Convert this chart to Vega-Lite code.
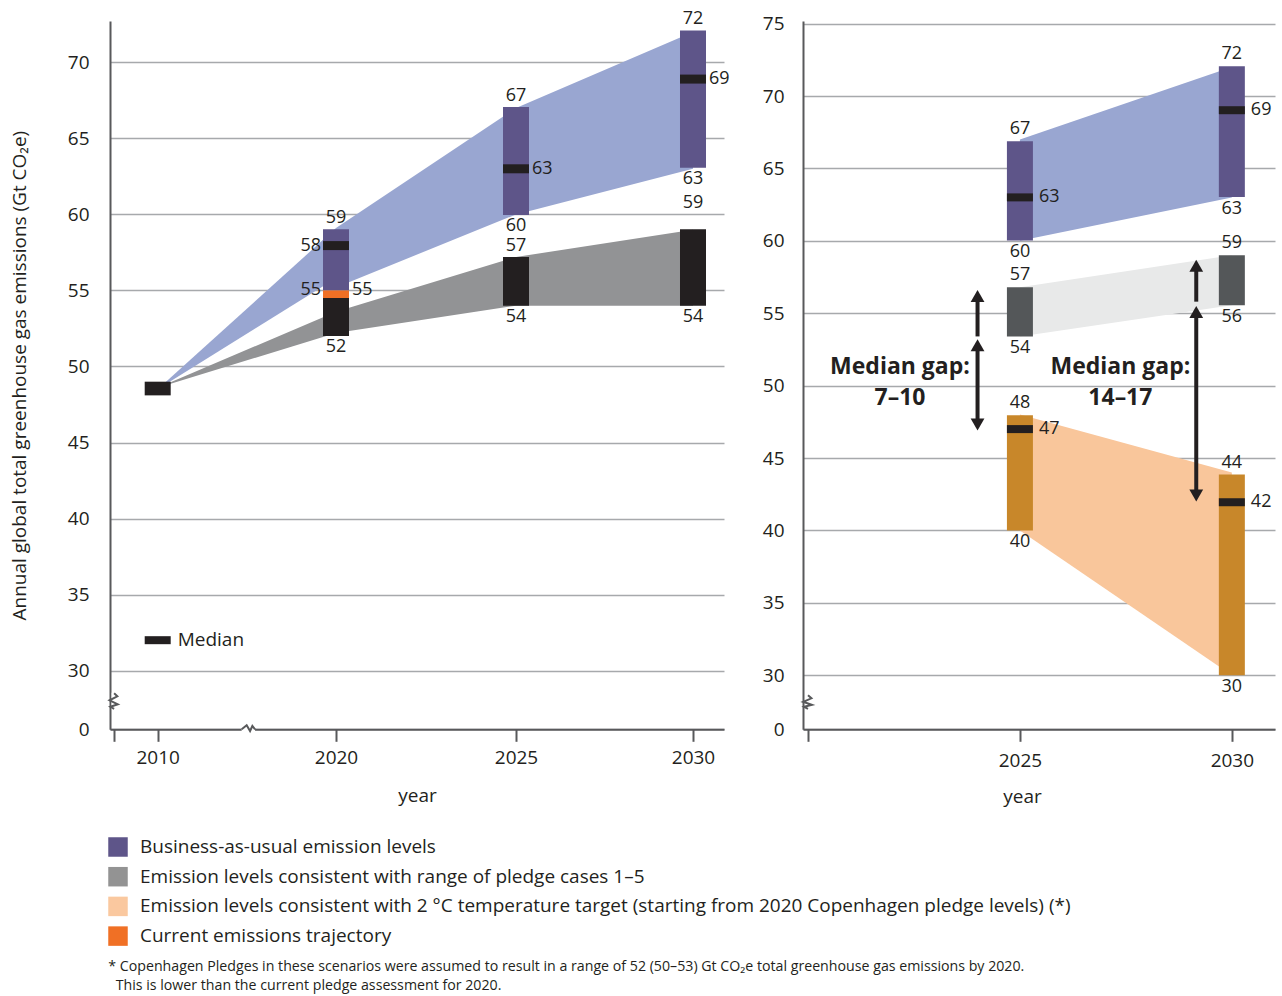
{
  "$schema": "https://vega.github.io/schema/vega-lite/v6.json",
  "padding": {"left": 10, "top": 10, "right": 5, "bottom": 5},
  "background": "white",
  "config": {
    "view": {"stroke": null},
    "font": "Open Sans",
    "axis": {"labelColor": "#231f20", "titleColor": "#231f20", "labelFontSize": 19, "titleFontSize": 19, "titleFontWeight": "normal", "domainColor": "#58595b", "domainWidth": 2, "tickColor": "#58595b", "tickWidth": 2, "gridColor": "#a7a9ac", "gridWidth": 1.5, "labelFont": "Open Sans", "titleFont": "Open Sans", "zindex": 0},
    "text": {"font": "Open Sans", "fontSize": 18, "color": "#231f20"},
    "legend": {"labelFont": "Open Sans"}
  },
  "title": {
    "text": ["* Copenhagen Pledges in these scenarios were assumed to result in a range of 52 (50–53) Gt CO₂e total greenhouse gas emissions by 2020.", "\u200b\u00a0\u00a0This is lower than the current pledge assessment for 2020."],
    "orient": "bottom", "anchor": "start", "frame": "bounds", "fontSize": 14.2, "fontWeight": "normal", "color": "#231f20", "lineHeight": 19, "offset": 13, "dx": 98, "font": "Open Sans"
  },
  "datasets": {
    "leftAreas": [
      {"series": "bau", "seg": "a", "year": 2010, "lo": 48.5, "hi": 48.5},
      {"series": "bau", "seg": "a", "year": 2020, "lo": 55.8, "hi": 59.1},
      {"series": "bau", "seg": "b", "year": 2020, "lo": 55.2, "hi": 59.1},
      {"series": "bau", "seg": "b", "year": 2025, "lo": 60, "hi": 67},
      {"series": "bau", "seg": "b", "year": 2030, "lo": 63, "hi": 72},
      {"series": "pledge", "seg": "a", "year": 2010, "lo": 48.6, "hi": 48.6},
      {"series": "pledge", "seg": "a", "year": 2020, "lo": 52.2, "hi": 53.6},
      {"series": "pledge", "seg": "a", "year": 2025, "lo": 54, "hi": 57.2},
      {"series": "pledge", "seg": "a", "year": 2030, "lo": 54, "hi": 59}
    ],
    "leftBars": [
      {"series": "2010 emissions", "year": 2010, "lo": 48.1, "hi": 49.0},
      {"series": "Business-as-usual emission levels", "year": 2020, "lo": 55, "hi": 59.03},
      {"series": "Current emissions trajectory", "year": 2020, "lo": 54.5, "hi": 55},
      {"series": "pledge", "year": 2020, "lo": 52, "hi": 54.5},
      {"series": "Business-as-usual emission levels", "year": 2025, "lo": 59.97, "hi": 67.06},
      {"series": "pledge", "year": 2025, "lo": 53.99, "hi": 57.2},
      {"series": "Business-as-usual emission levels", "year": 2030, "lo": 63.07, "hi": 72.1},
      {"series": "pledge", "year": 2030, "lo": 54, "hi": 59.03}
    ],
    "leftMedians": [
      {"year": 2020, "median": 57.95},
      {"year": 2025, "median": 63},
      {"year": 2030, "median": 68.9}
    ],
    "leftLabels": [
      {"year": 2020, "at": 59.03, "label": "59", "side": "above"},
      {"year": 2020, "at": 57.95, "label": "58", "side": "left"},
      {"year": 2020, "at": 55, "label": "55", "side": "left"},
      {"year": 2020, "at": 55, "label": "55", "side": "right"},
      {"year": 2020, "at": 52, "label": "52", "side": "below"},
      {"year": 2025, "at": 67.06, "label": "67", "side": "above"},
      {"year": 2025, "at": 63, "label": "63", "side": "right"},
      {"year": 2025, "at": 59.97, "label": "60", "side": "below"},
      {"year": 2025, "at": 57.2, "label": "57", "side": "above"},
      {"year": 2025, "at": 53.99, "label": "54", "side": "below"},
      {"year": 2030, "at": 72.1, "label": "72", "side": "above"},
      {"year": 2030, "at": 68.9, "label": "69", "side": "right"},
      {"year": 2030, "at": 63.07, "label": "63", "side": "below"},
      {"year": 2030, "at": 59.03, "label": "59", "side": "above2"},
      {"year": 2030, "at": 54, "label": "54", "side": "below"}
    ],
    "medianKey": [{"year": 2010, "at": 32, "label": "Median"}],
    "leftCoverY": [{"year": 2008, "lo": 10.2, "hi": 18.7}],
    "leftCoverX": [{"year": 2014.71, "year2": 2015.46, "at": 0}],
    "leftZig": [
      {"part": "y", "i": 0, "year": 2008, "at": 18.4},
      {"part": "y", "i": 1, "year": 2008.147, "at": 16.86},
      {"part": "y", "i": 2, "year": 2007.79, "at": 14.82},
      {"part": "y", "i": 3, "year": 2008.168, "at": 12.78},
      {"part": "y", "i": 4, "year": 2007.832, "at": 11.5},
      {"part": "y", "i": 5, "year": 2008, "at": 10.48},
      {"part": "x", "i": 0, "year": 2014.71, "at": 0},
      {"part": "x", "i": 1, "year": 2014.99, "at": 2.04},
      {"part": "x", "i": 2, "year": 2015.18, "at": -0.87},
      {"part": "x", "i": 3, "year": 2015.31, "at": 1.69},
      {"part": "x", "i": 4, "year": 2015.46, "at": 0}
    ],
    "rightCoverY": [{"year": 2020, "lo": 11.1, "hi": 19.2}],
    "rightZig": [
      {"part": "y", "i": 0, "year": 2020, "at": 18.89},
      {"part": "y", "i": 1, "year": 2020.081, "at": 17.22},
      {"part": "y", "i": 2, "year": 2019.885, "at": 15.28},
      {"part": "y", "i": 3, "year": 2020.092, "at": 13.61},
      {"part": "y", "i": 4, "year": 2019.908, "at": 12.5},
      {"part": "y", "i": 5, "year": 2020, "at": 11.39}
    ],
    "rightAreas": [
      {"series": "bau", "year": 2025, "lo": 60, "hi": 67},
      {"series": "bau", "year": 2030, "lo": 63, "hi": 72},
      {"series": "pledge", "year": 2025, "lo": 53.4, "hi": 56.8},
      {"series": "pledge", "year": 2030, "lo": 55.55, "hi": 59},
      {"series": "target", "year": 2025, "lo": 40, "hi": 48},
      {"series": "target", "year": 2030, "lo": 30, "hi": 44}
    ],
    "rightBars": [
      {"series": "Business-as-usual emission levels", "year": 2025, "lo": 60.03, "hi": 66.87},
      {"series": "pledge", "year": 2025, "lo": 53.4, "hi": 56.8},
      {"series": "target", "year": 2025, "lo": 40, "hi": 47.96},
      {"series": "Business-as-usual emission levels", "year": 2030, "lo": 63.03, "hi": 72.05},
      {"series": "pledge", "year": 2030, "lo": 55.55, "hi": 59.0},
      {"series": "target", "year": 2030, "lo": 30, "hi": 43.86}
    ],
    "rightMedians": [
      {"year": 2025, "median": 63},
      {"year": 2030, "median": 69.02},
      {"year": 2025, "median": 47},
      {"year": 2030, "median": 41.95}
    ],
    "rightLabels": [
      {"year": 2025, "at": 66.87, "label": "67", "side": "above"},
      {"year": 2025, "at": 63, "label": "63", "side": "right"},
      {"year": 2025, "at": 60.03, "label": "60", "side": "below"},
      {"year": 2025, "at": 56.8, "label": "57", "side": "above"},
      {"year": 2025, "at": 53.4, "label": "54", "side": "below"},
      {"year": 2025, "at": 47.96, "label": "48", "side": "above"},
      {"year": 2025, "at": 47, "label": "47", "side": "right"},
      {"year": 2025, "at": 40, "label": "40", "side": "below"},
      {"year": 2030, "at": 72.05, "label": "72", "side": "above"},
      {"year": 2030, "at": 69.02, "label": "69", "side": "right"},
      {"year": 2030, "at": 63.03, "label": "63", "side": "below"},
      {"year": 2030, "at": 59.0, "label": "59", "side": "above"},
      {"year": 2030, "at": 55.55, "label": "56", "side": "below"},
      {"year": 2030, "at": 43.86, "label": "44", "side": "above"},
      {"year": 2030, "at": 41.95, "label": "42", "side": "right"},
      {"year": 2030, "at": 30, "label": "30", "side": "below"}
    ],
    "gaps": [
      {"year": 2024, "lo": 46.9, "hi": 53.2, "kind": "double"},
      {"year": 2024, "lo": 53.4, "hi": 56.6, "kind": "up"},
      {"year": 2029.16, "lo": 42.0, "hi": 55.5, "kind": "double"},
      {"year": 2029.16, "lo": 55.8, "hi": 58.7, "kind": "up"}
    ],
    "gapText": [
      {"year": 2022.17, "at": 51.27, "text": "Median gap:"},
      {"year": 2022.17, "at": 49.13, "text": "7–10"},
      {"year": 2027.37, "at": 51.27, "text": "Median gap:"},
      {"year": 2027.37, "at": 49.13, "text": "14–17"}
    ]
  },
  "spacing": 32,
  "hconcat": [
    {
      "width": 614,
      "height": 708.3,
      "encoding": {
        "x": {"field": "year", "type": "quantitative",
          "scale": {"type": "linear", "domain": [2008, 2010, 2020, 2025, 2030, 2030.86], "range": [0, 47.7, 226, 406, 583, 614], "nice": false, "zero": false},
          "axis": {"values": [2008, 2010, 2020, 2025, 2030], "format": "d", "labelExpr": "datum.value == 2008 ? '' : datum.label", "grid": false, "tickSize": 12, "labelPadding": 7, "title": "year", "titlePadding": 19}
        }
      },
      "layer": [
        {
          "data": {"name": "leftAreas"},
          "transform": [{"filter": "datum.series == 'bau'"}],
          "mark": {"type": "area", "color": "#99a6d1", "opacity": 1},
          "encoding": {
            "y": {"field": "lo", "type": "quantitative",
              "scale": {"type": "linear", "domain": [0, 30, 72.72], "range": [708.3, 649.6, 0], "nice": false, "zero": false},
              "axis": {"values": [0, 30, 35, 40, 45, 50, 55, 60, 65, 70], "grid": true, "ticks": false, "labelPadding": 21, "title": "Annual global total greenhouse gas emissions (Gt CO₂e)", "titlePadding": 38}
            },
            "y2": {"field": "hi"},
            "detail": {"field": "seg"}
          }
        },
        {
          "data": {"name": "leftAreas"},
          "transform": [{"filter": "datum.series == 'pledge'"}],
          "mark": {"type": "area", "color": "#929395", "opacity": 1},
          "encoding": {
            "y": {"field": "lo", "type": "quantitative", "scale": {"type": "linear", "domain": [0, 30, 72.72], "range": [708.3, 649.6, 0], "nice": false, "zero": false}},
            "y2": {"field": "hi"},
            "detail": {"field": "seg"}
          }
        },
        {
          "data": {"name": "leftBars"},
          "transform": [{"filter": "datum.series == 'Business-as-usual emission levels' || datum.series == 'Current emissions trajectory'"}],
          "mark": {"type": "bar", "width": 26, "orient": "vertical"},
          "encoding": {
            "y": {"field": "lo", "type": "quantitative", "scale": {"type": "linear", "domain": [0, 30, 72.72], "range": [708.3, 649.6, 0], "nice": false, "zero": false}},
            "y2": {"field": "hi"},
            "color": {"field": "series", "type": "nominal",
              "scale": {"domain": ["Business-as-usual emission levels", "Emission levels consistent with range of pledge cases 1–5", "Emission levels consistent with 2 °C temperature target (starting from 2020 Copenhagen pledge levels) (*)", "Current emissions trajectory"], "range": ["#5e5589", "#939393", "#fac89f", "#f07025"]},
              "legend": {"title": null, "orient": "none", "legendX": -2, "legendY": 816, "symbolType": "square", "symbolSize": 380, "symbolStrokeWidth": 0, "symbolOpacity": 1, "labelFontSize": 19, "labelColor": "#231f20", "labelOffset": 12, "rowPadding": 9.7, "labelLimit": 1200}
            }
          }
        },
        {
          "data": {"name": "leftBars"},
          "transform": [{"filter": "datum.series == 'pledge' || datum.series == '2010 emissions'"}],
          "mark": {"type": "bar", "width": 26, "orient": "vertical", "color": "#231f20"},
          "encoding": {
            "y": {"field": "lo", "type": "quantitative", "scale": {"type": "linear", "domain": [0, 30, 72.72], "range": [708.3, 649.6, 0], "nice": false, "zero": false}},
            "y2": {"field": "hi"}
          }
        },
        {
          "data": {"name": "leftMedians"},
          "mark": {"type": "tick", "orient": "horizontal", "size": 26, "thickness": 9, "color": "#231f20", "opacity": 1},
          "encoding": {
            "y": {"field": "median", "type": "quantitative", "scale": {"type": "linear", "domain": [0, 30, 72.72], "range": [708.3, 649.6, 0], "nice": false, "zero": false}}
          }
        },
        {
          "data": {"name": "medianKey"},
          "mark": {"type": "tick", "orient": "horizontal", "size": 26, "thickness": 8, "color": "#231f20", "opacity": 1},
          "encoding": {
            "y": {"field": "at", "type": "quantitative", "scale": {"type": "linear", "domain": [0, 30, 72.72], "range": [708.3, 649.6, 0], "nice": false, "zero": false}}
          }
        },
        {
          "data": {"name": "medianKey"},
          "mark": {"type": "text", "align": "left", "baseline": "middle", "dx": 20, "fontSize": 19},
          "encoding": {
            "y": {"field": "at", "type": "quantitative", "scale": {"type": "linear", "domain": [0, 30, 72.72], "range": [708.3, 649.6, 0], "nice": false, "zero": false}},
            "text": {"field": "label"}
          }
        },
        {
          "data": {"name": "leftLabels"},
          "transform": [{"filter": "datum.side == 'above'"}],
          "mark": {"type": "text", "align": "center", "baseline": "middle", "dy": -11},
          "encoding": {
            "y": {"field": "at", "type": "quantitative", "scale": {"type": "linear", "domain": [0, 30, 72.72], "range": [708.3, 649.6, 0], "nice": false, "zero": false}},
            "text": {"field": "label"}
          }
        },
        {
          "data": {"name": "leftLabels"},
          "transform": [{"filter": "datum.side == 'above2'"}],
          "mark": {"type": "text", "align": "center", "baseline": "middle", "dy": -26},
          "encoding": {
            "y": {"field": "at", "type": "quantitative", "scale": {"type": "linear", "domain": [0, 30, 72.72], "range": [708.3, 649.6, 0], "nice": false, "zero": false}},
            "text": {"field": "label"}
          }
        },
        {
          "data": {"name": "leftLabels"},
          "transform": [{"filter": "datum.side == 'below'"}],
          "mark": {"type": "text", "align": "center", "baseline": "middle", "dy": 11},
          "encoding": {
            "y": {"field": "at", "type": "quantitative", "scale": {"type": "linear", "domain": [0, 30, 72.72], "range": [708.3, 649.6, 0], "nice": false, "zero": false}},
            "text": {"field": "label"}
          }
        },
        {
          "data": {"name": "leftLabels"},
          "transform": [{"filter": "datum.side == 'left'"}],
          "mark": {"type": "text", "align": "right", "baseline": "middle", "dx": -15},
          "encoding": {
            "y": {"field": "at", "type": "quantitative", "scale": {"type": "linear", "domain": [0, 30, 72.72], "range": [708.3, 649.6, 0], "nice": false, "zero": false}},
            "text": {"field": "label"}
          }
        },
        {
          "data": {"name": "leftLabels"},
          "transform": [{"filter": "datum.side == 'right'"}],
          "mark": {"type": "text", "align": "left", "baseline": "middle", "dx": 16},
          "encoding": {
            "y": {"field": "at", "type": "quantitative", "scale": {"type": "linear", "domain": [0, 30, 72.72], "range": [708.3, 649.6, 0], "nice": false, "zero": false}},
            "text": {"field": "label"}
          }
        },
        {
          "data": {"name": "leftCoverY"},
          "mark": {"type": "rule", "color": "white", "strokeWidth": 5},
          "encoding": {
            "y": {"field": "lo", "type": "quantitative", "scale": {"type": "linear", "domain": [0, 30, 72.72], "range": [708.3, 649.6, 0], "nice": false, "zero": false}},
            "y2": {"field": "hi"}
          }
        },
        {
          "data": {"name": "leftCoverX"},
          "mark": {"type": "rule", "color": "white", "strokeWidth": 5},
          "encoding": {
            "x2": {"field": "year2"},
            "y": {"field": "at", "type": "quantitative", "scale": {"type": "linear", "domain": [0, 30, 72.72], "range": [708.3, 649.6, 0], "nice": false, "zero": false}}
          }
        },
        {
          "data": {"name": "leftZig"},
          "mark": {"type": "line", "color": "#58595b", "strokeWidth": 2},
          "encoding": {
            "y": {"field": "at", "type": "quantitative", "scale": {"type": "linear", "domain": [0, 30, 72.72], "range": [708.3, 649.6, 0], "nice": false, "zero": false}},
            "detail": {"field": "part"},
            "order": {"field": "i", "type": "quantitative"}
          }
        }
      ]
    },
    {
      "width": 472,
      "height": 708.3,
      "encoding": {
        "x": {"field": "year", "type": "quantitative",
          "scale": {"domain": [2020, 2030.9], "nice": false, "zero": false},
          "axis": {"values": [2020, 2025, 2030], "format": "d", "labelExpr": "datum.value == 2020 ? '' : datum.label", "grid": false, "tickSize": 12, "labelPadding": 10, "title": "year", "titlePadding": 17, "titleX": 219}
        }
      },
      "layer": [
        {
          "data": {"name": "rightAreas"},
          "transform": [{"filter": "datum.series == 'bau'"}],
          "mark": {"type": "area", "color": "#99a6d1", "opacity": 1},
          "encoding": {
            "y": {"field": "lo", "type": "quantitative",
              "scale": {"type": "linear", "domain": [0, 30, 75.18], "range": [708.3, 654.3, 0], "nice": false, "zero": false},
              "axis": {"values": [0, 30, 35, 40, 45, 50, 55, 60, 65, 70, 75], "grid": true, "ticks": false, "labelPadding": 19, "title": null}
            },
            "y2": {"field": "hi"}
          }
        },
        {
          "data": {"name": "rightAreas"},
          "transform": [{"filter": "datum.series == 'pledge'"}],
          "mark": {"type": "area", "color": "#e8e9e9", "opacity": 1},
          "encoding": {
            "y": {"field": "lo", "type": "quantitative", "scale": {"type": "linear", "domain": [0, 30, 75.18], "range": [708.3, 654.3, 0], "nice": false, "zero": false}},
            "y2": {"field": "hi"}
          }
        },
        {
          "data": {"name": "rightAreas"},
          "transform": [{"filter": "datum.series == 'target'"}],
          "mark": {"type": "area", "color": "#f9c69b", "opacity": 1},
          "encoding": {
            "y": {"field": "lo", "type": "quantitative", "scale": {"type": "linear", "domain": [0, 30, 75.18], "range": [708.3, 654.3, 0], "nice": false, "zero": false}},
            "y2": {"field": "hi"}
          }
        },
        {
          "data": {"name": "rightBars"},
          "transform": [{"filter": "datum.series == 'Business-as-usual emission levels'"}],
          "mark": {"type": "bar", "width": 26, "orient": "vertical"},
          "encoding": {
            "y": {"field": "lo", "type": "quantitative", "scale": {"type": "linear", "domain": [0, 30, 75.18], "range": [708.3, 654.3, 0], "nice": false, "zero": false}},
            "y2": {"field": "hi"},
            "color": {"field": "series", "type": "nominal",
              "scale": {"domain": ["Business-as-usual emission levels", "Emission levels consistent with range of pledge cases 1–5", "Emission levels consistent with 2 °C temperature target (starting from 2020 Copenhagen pledge levels) (*)", "Current emissions trajectory"], "range": ["#5e5589", "#939393", "#fac89f", "#f07025"]},
              "legend": {"title": null, "orient": "none", "legendX": -2, "legendY": 816, "symbolType": "square", "symbolSize": 380, "symbolStrokeWidth": 0, "symbolOpacity": 1, "labelFontSize": 19, "labelColor": "#231f20", "labelOffset": 12, "rowPadding": 9.7, "labelLimit": 1200}
            }
          }
        },
        {
          "data": {"name": "rightBars"},
          "transform": [{"filter": "datum.series == 'pledge'"}],
          "mark": {"type": "bar", "width": 26, "orient": "vertical", "color": "#545759"},
          "encoding": {
            "y": {"field": "lo", "type": "quantitative", "scale": {"type": "linear", "domain": [0, 30, 75.18], "range": [708.3, 654.3, 0], "nice": false, "zero": false}},
            "y2": {"field": "hi"}
          }
        },
        {
          "data": {"name": "rightBars"},
          "transform": [{"filter": "datum.series == 'target'"}],
          "mark": {"type": "bar", "width": 26, "orient": "vertical", "color": "#c8872a"},
          "encoding": {
            "y": {"field": "lo", "type": "quantitative", "scale": {"type": "linear", "domain": [0, 30, 75.18], "range": [708.3, 654.3, 0], "nice": false, "zero": false}},
            "y2": {"field": "hi"}
          }
        },
        {
          "data": {"name": "rightMedians"},
          "mark": {"type": "tick", "orient": "horizontal", "size": 26, "thickness": 8, "color": "#231f20", "opacity": 1},
          "encoding": {
            "y": {"field": "median", "type": "quantitative", "scale": {"type": "linear", "domain": [0, 30, 75.18], "range": [708.3, 654.3, 0], "nice": false, "zero": false}}
          }
        },
        {
          "data": {"name": "rightLabels"},
          "transform": [{"filter": "datum.side == 'above'"}],
          "mark": {"type": "text", "align": "center", "baseline": "middle", "dy": -12},
          "encoding": {
            "y": {"field": "at", "type": "quantitative", "scale": {"type": "linear", "domain": [0, 30, 75.18], "range": [708.3, 654.3, 0], "nice": false, "zero": false}},
            "text": {"field": "label"}
          }
        },
        {
          "data": {"name": "rightLabels"},
          "transform": [{"filter": "datum.side == 'below'"}],
          "mark": {"type": "text", "align": "center", "baseline": "middle", "dy": 12},
          "encoding": {
            "y": {"field": "at", "type": "quantitative", "scale": {"type": "linear", "domain": [0, 30, 75.18], "range": [708.3, 654.3, 0], "nice": false, "zero": false}},
            "text": {"field": "label"}
          }
        },
        {
          "data": {"name": "rightLabels"},
          "transform": [{"filter": "datum.side == 'right'"}],
          "mark": {"type": "text", "align": "left", "baseline": "middle", "dx": 19},
          "encoding": {
            "y": {"field": "at", "type": "quantitative", "scale": {"type": "linear", "domain": [0, 30, 75.18], "range": [708.3, 654.3, 0], "nice": false, "zero": false}},
            "text": {"field": "label"}
          }
        },
        {
          "data": {"name": "gaps"},
          "transform": [{"filter": "datum.kind == 'double'"}],
          "mark": {"type": "rule", "color": "#231f20", "strokeWidth": 4, "yOffset": -8, "y2Offset": 8},
          "encoding": {
            "y": {"field": "lo", "type": "quantitative", "scale": {"type": "linear", "domain": [0, 30, 75.18], "range": [708.3, 654.3, 0], "nice": false, "zero": false}},
            "y2": {"field": "hi"}
          }
        },
        {
          "data": {"name": "gaps"},
          "transform": [{"filter": "datum.kind == 'up'"}],
          "mark": {"type": "rule", "color": "#231f20", "strokeWidth": 4, "y2Offset": 8},
          "encoding": {
            "y": {"field": "lo", "type": "quantitative", "scale": {"type": "linear", "domain": [0, 30, 75.18], "range": [708.3, 654.3, 0], "nice": false, "zero": false}},
            "y2": {"field": "hi"}
          }
        },
        {
          "data": {"name": "gaps"},
          "mark": {"type": "point", "shape": "triangle-up", "size": 190, "filled": true, "color": "#231f20", "opacity": 1, "yOffset": 6},
          "encoding": {
            "y": {"field": "hi", "type": "quantitative", "scale": {"type": "linear", "domain": [0, 30, 75.18], "range": [708.3, 654.3, 0], "nice": false, "zero": false}}
          }
        },
        {
          "data": {"name": "gaps"},
          "transform": [{"filter": "datum.kind == 'double'"}],
          "mark": {"type": "point", "shape": "triangle-down", "size": 190, "filled": true, "color": "#231f20", "opacity": 1, "yOffset": -6},
          "encoding": {
            "y": {"field": "lo", "type": "quantitative", "scale": {"type": "linear", "domain": [0, 30, 75.18], "range": [708.3, 654.3, 0], "nice": false, "zero": false}}
          }
        },
        {
          "data": {"name": "gapText"},
          "mark": {"type": "text", "align": "center", "baseline": "middle", "fontSize": 23, "fontWeight": "bold"},
          "encoding": {
            "y": {"field": "at", "type": "quantitative", "scale": {"type": "linear", "domain": [0, 30, 75.18], "range": [708.3, 654.3, 0], "nice": false, "zero": false}},
            "text": {"field": "text"}
          }
        },
        {
          "data": {"name": "rightCoverY"},
          "mark": {"type": "rule", "color": "white", "strokeWidth": 5},
          "encoding": {
            "y": {"field": "lo", "type": "quantitative", "scale": {"type": "linear", "domain": [0, 30, 75.18], "range": [708.3, 654.3, 0], "nice": false, "zero": false}},
            "y2": {"field": "hi"}
          }
        },
        {
          "data": {"name": "rightZig"},
          "mark": {"type": "line", "color": "#58595b", "strokeWidth": 2},
          "encoding": {
            "y": {"field": "at", "type": "quantitative", "scale": {"type": "linear", "domain": [0, 30, 75.18], "range": [708.3, 654.3, 0], "nice": false, "zero": false}},
            "detail": {"field": "part"},
            "order": {"field": "i", "type": "quantitative"}
          }
        }
      ]
    }
  ]
}
